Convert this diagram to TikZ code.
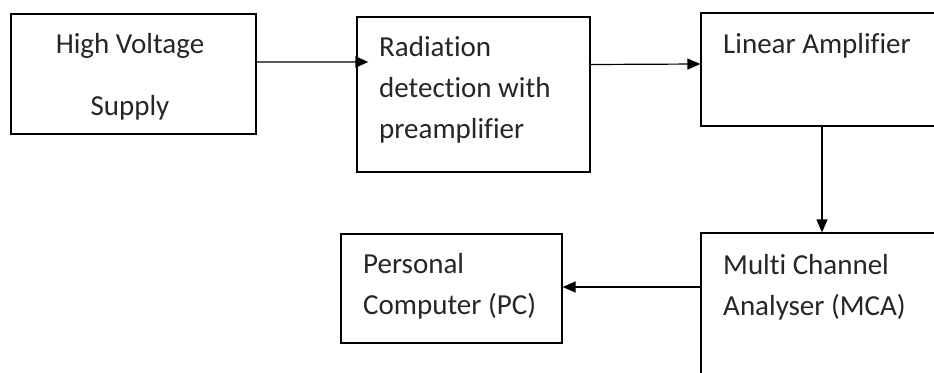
\documentclass[tikz,border=0pt]{standalone}
\usepackage{fontspec}
\setmainfont{Carlito}[Ligatures={NoCommon}]
\usetikzlibrary{arrows.meta}

\definecolor{inkgray}{HTML}{262626}
\definecolor{feedgray}{HTML}{5A5A5A}

\begin{document}
\begin{tikzpicture}[x=1pt,y=-1pt,
    blk/.style={rectangle, draw=black, line width=1.2pt, inner sep=0pt},
    txt/.style={inner sep=0pt, text=inkgray, font=\fontsize{29}{41}\selectfont},
    arr/.style={-{Triangle[length=13pt,width=11pt,color=black]}, line width=1.2pt, black}]

\clip (0,0) rectangle (934,372);

%%%%%%%%%%%%%%%%%%%% Blocks %%%%%%%%%%%%%%%%%%%%

%upper row
\node[blk, minimum width=245pt, minimum height=120pt] (hvs) at (133.5,74) {};
\node[blk, minimum width=233pt, minimum height=155pt] (det) at (473.5,94.5) {};
\node[blk, minimum width=259pt, minimum height=113pt] (lin) at (830.5,69.5) {};

%lower row
\node[blk, minimum width=259pt, minimum height=167pt] (mca) at (830.5,316.5) {};
\node[blk, minimum width=221pt, minimum height=109pt] (pc) at (451.5,288.5) {};

%%%%%%%%%%%%%%%%%%%% Texts %%%%%%%%%%%%%%%%%%%%

\node[txt, align=center, font=\fontsize{29}{62}\selectfont] (hvstxt) at (130,77) {High Voltage\\Supply};
\node[txt, align=left, anchor=west] (dettxt) at (379,90) {Radiation\\detection with\\preamplifier};
\node[txt, anchor=west] (lintxt) at (723,46) {Linear Amplifier};
\node[txt, align=left, anchor=west] (mcatxt) at (723,287) {Multi Channel\\Analyser (MCA)};
\node[txt, align=left, anchor=west] (pctxt) at (363,286) {Personal\\Computer (PC)};

%%%%%%%%%%%%%%%%%%%% Arrows %%%%%%%%%%%%%%%%%%%%

\draw[arr, draw=feedgray, line width=2pt, shorten >=-12pt] ([yshift=12pt]hvs.east) -- ([yshift=32.5pt]det.west);
\draw[arr] ([yshift=30pt]det.east) -- ([yshift=5.5pt]lin.west);
\draw[arr] ([xshift=-8.5pt]lin.south) -- ([xshift=-8.5pt]mca.north);
\draw[arr] ([yshift=29.5pt]mca.west) -- ([yshift=1.5pt]pc.east);

\end{tikzpicture}
\end{document}
